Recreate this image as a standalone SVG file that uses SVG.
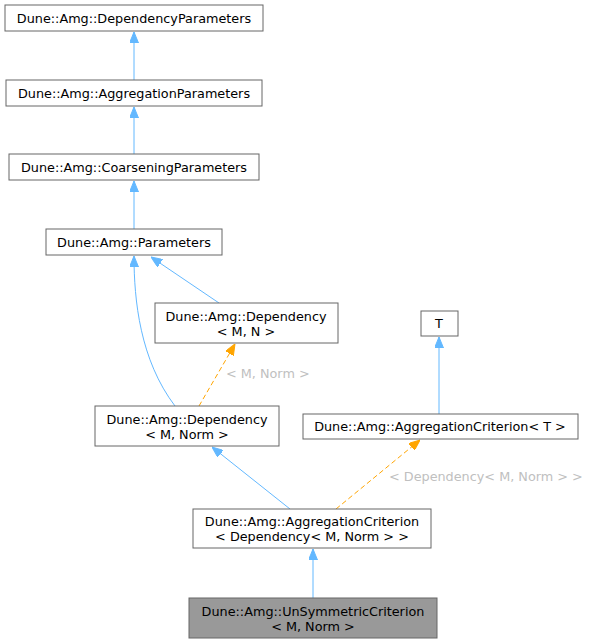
<svg xmlns="http://www.w3.org/2000/svg" width="591" height="644" viewBox="0 0 591 644">
<style>
.n{fill:#fff;stroke:#666;stroke-width:1}
.g{fill:#999;stroke:#666;stroke-width:1}
text{font-family:"DejaVu Sans",sans-serif;font-size:12.8px;fill:#000;text-anchor:middle}
.e{fill:none;stroke:#63b8ff;stroke-width:1}
.d{fill:none;stroke:#ffa500;stroke-width:1;stroke-dasharray:5,3}
.lb{fill:#c0c0c0;text-anchor:start}
</style>
<defs>
<marker id="ab" viewBox="0 0 11 9" refX="11" refY="4.5" markerWidth="11" markerHeight="9" markerUnits="userSpaceOnUse" orient="auto"><path d="M0,0 L11,4.5 L0,9 Z" fill="#63b8ff" stroke="#63b8ff"/></marker>
<marker id="ao" viewBox="0 0 11 9" refX="11" refY="4.5" markerWidth="11" markerHeight="9" markerUnits="userSpaceOnUse" orient="auto"><path d="M0,0 L11,4.5 L0,9 Z" fill="#ffa500" stroke="#ffa500"/></marker>
</defs>
<g id="edges">
<path class="e" d="M134,80 L134,32" marker-end="url(#ab)"/>
<path class="e" d="M134,154 L134,107" marker-end="url(#ab)"/>
<path class="e" d="M134,229 L134,181" marker-end="url(#ab)"/>
<path class="e" d="M219,303 L151,257" marker-end="url(#ab)"/>
<path class="e" d="M175,406 C140,360 134,300 134,256" marker-end="url(#ab)"/>
<path class="d" d="M199,406 L235,344" marker-end="url(#ao)"/>
<text class="lb" x="226" y="378">&lt; M, Norm &gt;</text>
<path class="e" d="M439,414 L439,337" marker-end="url(#ab)"/>
<path class="e" d="M290,509 L212,447" marker-end="url(#ab)"/>
<path class="d" d="M336,509 L420,440" marker-end="url(#ao)"/>
<text class="lb" x="389" y="481">&lt; Dependency&lt; M, Norm &gt; &gt;</text>
<path class="e" d="M313,598 L313,549" marker-end="url(#ab)"/>
</g>
<g id="n1"><rect class="n" x="5" y="5" width="258" height="26"/><text x="134" y="22.5">Dune::Amg::DependencyParameters</text></g>
<g id="n2"><rect class="n" x="6" y="80" width="256" height="26"/><text x="134" y="97.5">Dune::Amg::AggregationParameters</text></g>
<g id="n3"><rect class="n" x="9" y="154" width="250" height="26"/><text x="134" y="171.5">Dune::Amg::CoarseningParameters</text></g>
<g id="n4"><rect class="n" x="46" y="229" width="176" height="26"/><text x="134" y="246.5">Dune::Amg::Parameters</text></g>
<g id="n5"><rect class="n" x="155" y="303" width="183" height="40"/><text x="246" y="320.5">Dune::Amg::Dependency</text><text x="246" y="335.5">&lt; M, N &gt;</text></g>
<g id="n6"><rect class="n" x="421" y="311" width="37" height="25"/><text x="439" y="328">T</text></g>
<g id="n7"><rect class="n" x="95" y="406" width="184" height="40"/><text x="187" y="423.5">Dune::Amg::Dependency</text><text x="187" y="438.5">&lt; M, Norm &gt;</text></g>
<g id="n8"><rect class="n" x="303" y="414" width="275" height="25"/><text x="440" y="431">Dune::Amg::AggregationCriterion&lt; T &gt;</text></g>
<g id="n9"><rect class="n" x="193" y="509" width="238" height="39"/><text x="312" y="526">Dune::Amg::AggregationCriterion</text><text x="312" y="541">&lt; Dependency&lt; M, Norm &gt; &gt;</text></g>
<g id="n10"><rect class="g" x="189" y="598" width="248" height="40"/><text x="313" y="615.5">Dune::Amg::UnSymmetricCriterion</text><text x="313" y="630.5">&lt; M, Norm &gt;</text></g>
</svg>
